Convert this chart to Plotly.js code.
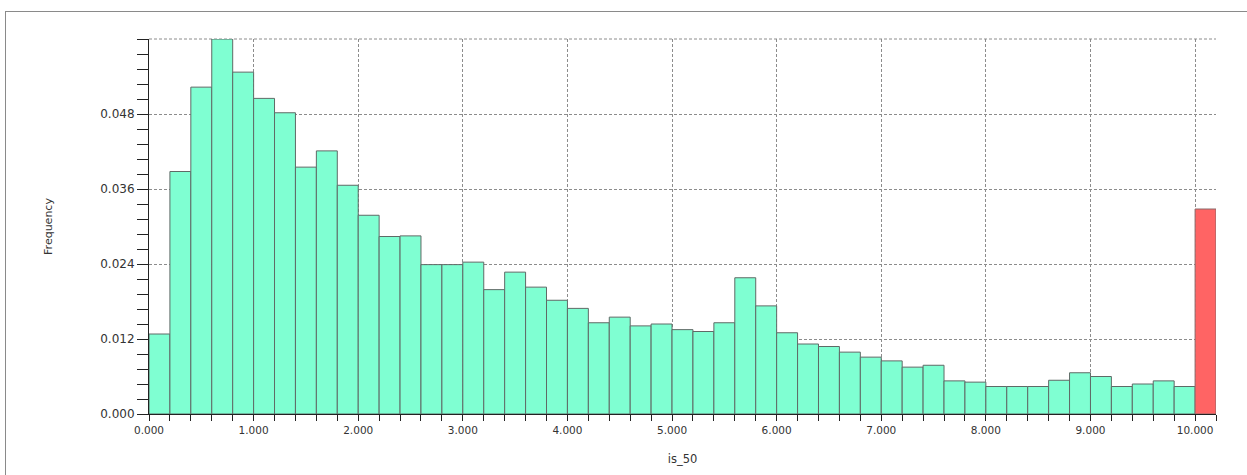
<!DOCTYPE html>
<html>
<head>
<meta charset="utf-8">
<script src="https://cdn.plot.ly/plotly-3.0.1.min.js"></script>
<style>
  html, body { margin: 0; padding: 0; background: #ffffff; }
  #wrap { position: relative; width: 1247px; height: 475px; overflow: hidden; }
  #chart { width: 1247px; height: 475px; }
  #frame { position: absolute; left: 5px; top: 11px; width: 1260px; height: 480px;
           border-left: 1px solid #8a8a8a; border-top: 1px solid #8a8a8a; pointer-events: none; }
</style>
</head>
<body>
<div id="wrap">
  <div id="chart"></div>
  <div id="frame"></div>
</div>
<script>
// Bin start positions (width 0.2)
const binStarts = [
  0.0, 0.2, 0.4, 0.6, 0.8, 1.0, 1.2, 1.4, 1.6, 1.8,
  2.0, 2.2, 2.4, 2.6, 2.8, 3.0, 3.2, 3.4, 3.6, 3.8,
  4.0, 4.2, 4.4, 4.6, 4.8, 5.0, 5.2, 5.4, 5.6, 5.8,
  6.0, 6.2, 6.4, 6.6, 6.8, 7.0, 7.2, 7.4, 7.6, 7.8,
  8.0, 8.2, 8.4, 8.6, 8.8, 9.0, 9.2, 9.4, 9.6, 9.8
];
const frequencies = [
  0.0128, 0.0388, 0.0523, 0.0600, 0.0547, 0.0505, 0.0482, 0.0395, 0.0421, 0.0366,
  0.0318, 0.0284, 0.0285, 0.0239, 0.0239, 0.0243, 0.0199, 0.0227, 0.0203, 0.0182,
  0.0169, 0.0146, 0.0155, 0.0141, 0.0144, 0.0135, 0.0132, 0.0146, 0.0218, 0.0173,
  0.0130, 0.0112, 0.0108, 0.0099, 0.0091, 0.0085, 0.0075, 0.0078, 0.0053, 0.0051,
  0.0044, 0.0044, 0.0044, 0.0054, 0.0066, 0.0060, 0.0044, 0.0048, 0.0053, 0.0044
];
// Overflow bin (>= 10)
const overflowStart = [10.0];
const overflowFreq = [0.0328];

const xTickVals = [0, 1, 2, 3, 4, 5, 6, 7, 8, 9, 10];
const yTickVals = [0, 0.012, 0.024, 0.036, 0.048, 0.060];
const yTickText = ['0.000', '0.012', '0.024', '0.036', '0.048', ''];

const traces = [
  {
    type: 'bar', x: binStarts, y: frequencies, width: 0.2, offset: 0,
    marker: { color: '#7fffd2', line: { color: '#5f6a66', width: 1 } },
    hoverinfo: 'x+y', showlegend: false
  },
  {
    type: 'bar', x: overflowStart, y: overflowFreq, width: 0.2, offset: 0,
    marker: { color: '#ff6464', line: { color: '#8a6a6a', width: 1 } },
    hoverinfo: 'x+y', showlegend: false
  }
];

const layout = {
  width: 1247, height: 475,
  margin: { l: 149, r: 31, t: 39, b: 61, pad: 0 },
  paper_bgcolor: '#ffffff', plot_bgcolor: '#ffffff',
  barmode: 'overlay', bargap: 0,
  showlegend: false,
  font: { family: 'DejaVu Sans, sans-serif', color: '#333333' },
  xaxis: {
    range: [0, 10.2], autorange: false, fixedrange: true,
    tickmode: 'array', tickvals: xTickVals, tickformat: '.3f',
    ticks: 'outside', ticklen: 6, tickwidth: 1, tickcolor: '#222222',
    tickfont: { family: 'DejaVu Sans, sans-serif', size: 10.5, color: '#333333' },
    showline: true, linecolor: '#222222', linewidth: 1,
    showgrid: true, gridcolor: '#8c8c8c', gridwidth: 1, griddash: '3px,2px',
    zeroline: false,
    minor: { dtick: 0.2, tick0: 0, ticks: 'outside', ticklen: 6, tickwidth: 1, tickcolor: '#222222', showgrid: false },
    title: { text: 'is_50', font: { family: 'DejaVu Sans, sans-serif', size: 11.5, color: '#333333' }, standoff: 20 }
  },
  yaxis: {
    range: [0, 0.06], autorange: false, fixedrange: true,
    tickmode: 'array', tickvals: yTickVals, ticktext: yTickText,
    ticks: 'outside', ticklen: 11, tickwidth: 1, tickcolor: '#222222',
    tickfont: { family: 'DejaVu Sans, sans-serif', size: 12, color: '#333333' },
    showline: true, linecolor: '#222222', linewidth: 1,
    showgrid: true, gridcolor: '#8c8c8c', gridwidth: 1, griddash: '3px,2px',
    zeroline: false,
    minor: { dtick: 0.0024, tick0: 0, ticks: 'outside', ticklen: 11, tickwidth: 1, tickcolor: '#222222', showgrid: false },
    title: { text: 'Frequency', font: { family: 'DejaVu Sans, sans-serif', size: 11, color: '#333333' }, standoff: 45 }
  },
  shapes: [
    { type: 'line', xref: 'paper', yref: 'paper', x0: 0, x1: 1, y0: 1, y1: 1,
      line: { color: '#8c8c8c', width: 1, dash: '3px,2px' }, layer: 'below' }
  ]
};

Plotly.newPlot('chart', traces, layout, { displayModeBar: false, staticPlot: true });
</script>
</body>
</html>
